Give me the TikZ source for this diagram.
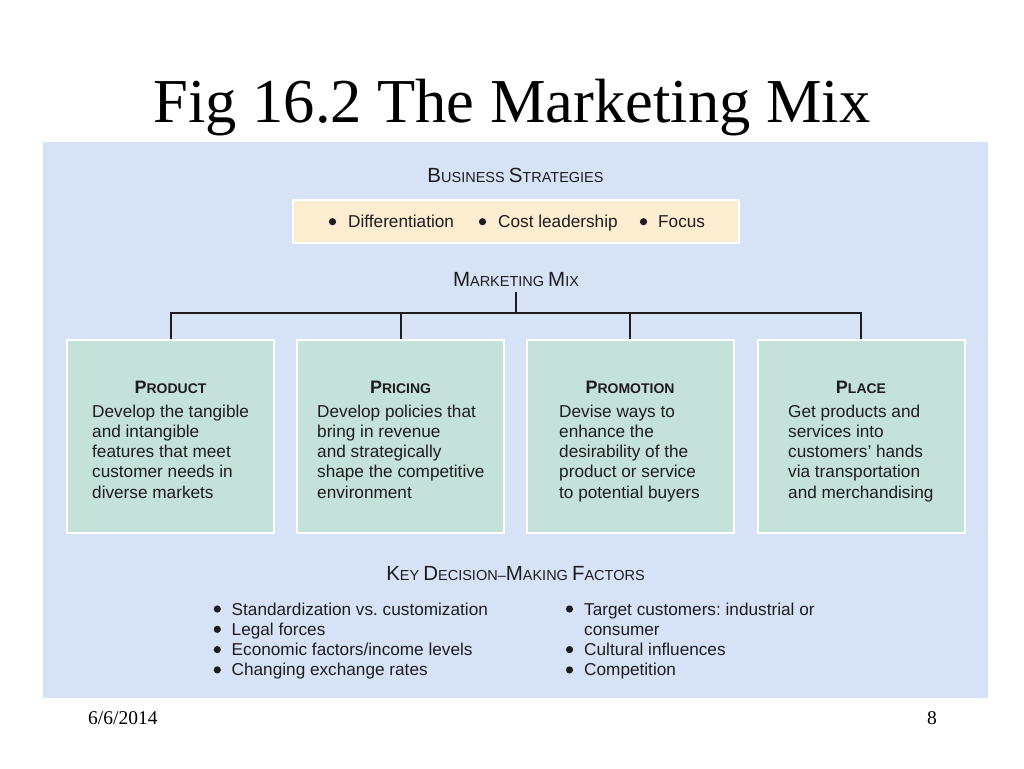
\documentclass[tikz,border=0pt]{standalone}
\usepackage{fontspec}
\setmainfont{Liberation Serif}
\newfontfamily\arialf{Liberation Sans}
\frenchspacing
\definecolor{panelc}{RGB}{214,227,247}
\definecolor{boxc}{RGB}{196,226,217}
\definecolor{beigec}{RGB}{252,236,208}
\definecolor{inkc}{RGB}{30,28,30}
\newcommand\mysc[2]{{\fontsize{20.5}{20.5}\selectfont #1}{\fontsize{14.5}{14.5}\selectfont #2}}
\newcommand\mybsc[2]{{\fontsize{18}{18}\selectfont\bfseries #1}{\fontsize{14}{14}\selectfont\bfseries #2}}
\tikzset{
  titletext/.style={inner sep=0pt,font=\fontsize{62.5}{70}\selectfont,text=black},
  foottext/.style={inner sep=0pt,font=\fontsize{19.5}{22}\selectfont,text=black},
  body/.style={inner sep=0pt,font=\arialf\fontsize{17.2}{20.3}\selectfont\frenchspacing,text=inkc},
  head/.style={inner sep=0pt,font=\arialf\fontsize{14.5}{14.5}\selectfont,text=inkc},
  dot/.style={circle,fill=inkc,draw=none,minimum size=7.2pt,inner sep=0pt},
  mixbox/.style={draw=white,line width=2pt,fill=boxc,minimum width=207pt,minimum height=193pt,inner sep=0pt},
  stratbox/.style={draw=white,line width=2pt,fill=beigec,minimum width=446pt,minimum height=43pt,inner sep=0pt},
  tree/.style={draw=inkc,line width=2pt,line join=miter}
}
\begin{document}
\begin{tikzpicture}[x=1pt,y=-1pt]
\useasboundingbox (0,0) rectangle (1024,768);
\fill[white] (0,0) rectangle (1024,768);
\node[titletext,anchor=base] (title) at (512,122) {Fig 16.2 The Marketing Mix};
\fill[panelc] (43,142) rectangle (988,698);

% business strategies
\node[head,anchor=base] (bsh) at (515.5,182.7) {\mysc{B}{USINESS} \mysc{S}{TRATEGIES}};
\node[stratbox] (bs) at (516,221.5) {};
\node[dot] (bb1) at (332.5,221.7) {};
\node[body,anchor=base west] (bt1) at (348,227.7) {Differentiation};
\node[dot] (bb2) at (482.5,221.7) {};
\node[body,anchor=base west] (bt2) at (498,227.7) {Cost leadership};
\node[dot] (bb3) at (643.5,221.7) {};
\node[body,anchor=base west] (bt3) at (658,227.7) {Focus};

% marketing mix
\node[head,anchor=base] (mmh) at (516,286.7) {\mysc{M}{ARKETING} \mysc{M}{IX}};
\coordinate (mmtail) at (516,292);
\coordinate (hy) at (0,313);

\node[mixbox] (p1) at (170.5,436.5) {};
\node[mixbox] (p2) at (400.5,436.5) {};
\node[mixbox] (p3) at (630,436.5) {};
\node[mixbox] (p4) at (861,436.5) {};

\draw[tree] (p1.north) -- (p1.north |- hy) -- (p4.north |- hy) -- (p4.north);
\draw[tree] (p2.north) -- (p2.north |- hy);
\draw[tree] (p3.north) -- (p3.north |- hy);
\draw[tree] (mmtail) -- (mmtail |- hy);

\node[head,anchor=base] (h1) at (170.5,393) {\mybsc{P}{RODUCT}};
\node[head,anchor=base] (h2) at (400.5,393) {\mybsc{P}{RICING}};
\node[head,anchor=base] (h3) at (630,393) {\mybsc{P}{ROMOTION}};
\node[head,anchor=base] (h4) at (861,393) {\mybsc{P}{LACE}};

\foreach \t [count=\i from 0] in {Develop the tangible,and intangible,features that meet,customer needs in,diverse markets}
  \node[body,anchor=base west] (pa\i) at (92,{417+20.3*\i}) {\t};
\foreach \t [count=\i from 0] in {Develop policies that,bring in revenue,and strategically,shape the competitive,environment}
  \node[body,anchor=base west] (pb\i) at (317,{417+20.3*\i}) {\t};
\foreach \t [count=\i from 0] in {Devise ways to,enhance the,desirability of the,product or service,to potential buyers}
  \node[body,anchor=base west] (pc\i) at (559,{417+20.3*\i}) {\t};
\foreach \t [count=\i from 0] in {Get products and,services into,customers’ hands,via transportation,and merchandising}
  \node[body,anchor=base west] (pd\i) at (788,{417+20.3*\i}) {\t};

% key decision-making factors
\node[head,anchor=base] (kh) at (515.5,580) {\mysc{K}{EY} \mysc{D}{ECISION}{\fontsize{14.5}{14.5}\selectfont –}\mysc{M}{AKING} \mysc{F}{ACTORS}};

\foreach \t [count=\i from 0] in {Standardization vs. customization,Legal forces,Economic factors/income levels,Changing exchange rates}
  {\node[dot] (lb\i) at (217.3,{609+20.3*\i}) {};
   \node[body,anchor=base west] (lt\i) at (231.5,{615+20.3*\i}) {\t};}

\node[dot] (rb0) at (569.5,609) {};
\node[body,anchor=base west] (rt0) at (584,615) {Target customers: industrial or};
\node[body,anchor=base west] (rt1) at (584,635.3) {consumer};
\node[dot] (rb2) at (569.5,649.6) {};
\node[body,anchor=base west] (rt2) at (584,655.6) {Cultural influences};
\node[dot] (rb3) at (569.5,669.9) {};
\node[body,anchor=base west] (rt3) at (584,675.9) {Competition};

% footer
\node[foottext,anchor=base west] (date) at (88,724) {6/6/2014};
\node[foottext,anchor=base east] (pg) at (937,724) {8};
\end{tikzpicture}
\end{document}
